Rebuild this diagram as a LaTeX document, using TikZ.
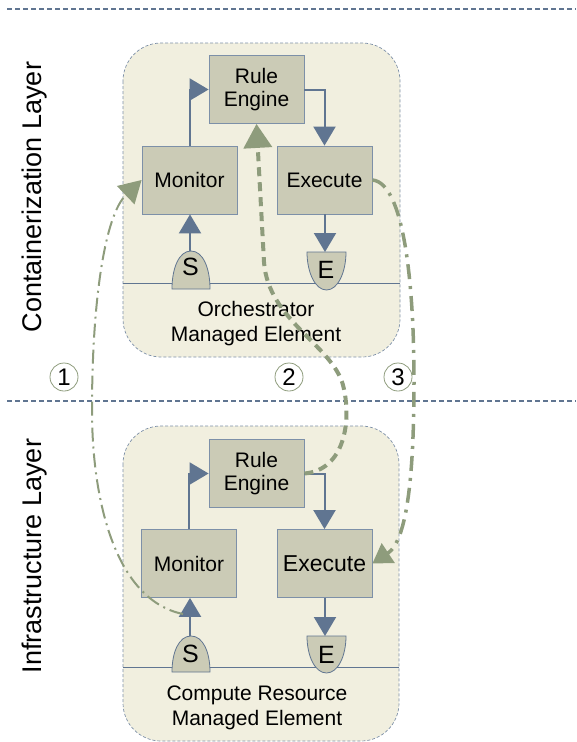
\documentclass[tikz,border=0pt]{standalone}
\usepackage{fontspec}
\setmainfont{Liberation Sans}
\usetikzlibrary{arrows.meta}

\definecolor{panefill}{RGB}{241,239,223}
\definecolor{blockfill}{RGB}{203,203,182}
\definecolor{steel}{RGB}{96,117,145}
\definecolor{edgeblue}{RGB}{125,144,168}
\definecolor{sage}{RGB}{142,156,124}

\begin{document}
\begin{tikzpicture}[x=1pt,y=-1pt,
  layerline/.style={draw=steel, line width=2.2pt, dash pattern=on 5pt off 3pt},
  panebox/.style={draw=edgeblue, fill=panefill, line width=0.7pt, dash pattern=on 3pt off 2pt, rounded corners=38pt},
  baseline line/.style={draw=steel, line width=0.8pt},
  block/.style={draw=edgeblue, fill=blockfill, line width=0.8pt, minimum width=95pt, minimum height=68pt,
    inner sep=0pt, align=center, font=\fontsize{21}{23}\selectfont},
  probe/.style={draw=steel, fill=blockfill, line width=0.8pt},
  probetext/.style={inner sep=0pt, font=\fontsize{25}{25}\selectfont},
  flow/.style={draw=steel, line width=2pt, -{Triangle[length=19pt,width=22pt]}},
  loopa/.style={draw=sage, line width=2pt, dash pattern=on 14pt off 5pt on 2pt off 5pt,
    -{Triangle[length=22pt,width=25pt,fill=sage]}},
  loopb/.style={draw=sage, line width=4pt, dash pattern=on 9pt off 6pt,
    -{Triangle[length=24pt,width=28pt,fill=sage]}},
  loopc/.style={draw=sage, line width=3.5pt, dash pattern=on 15pt off 7pt on 3pt off 7pt,
    -{Triangle[length=19pt,width=23pt,fill=sage]}},
  numcirc/.style={circle, draw=sage, line width=0.8pt, minimum size=28pt, inner sep=0pt,
    font=\fontsize{24}{24}\selectfont},
  paneltext/.style={inner sep=0pt, align=center, font=\fontsize{21}{25}\selectfont},
  layertext/.style={rotate=90, inner sep=0pt, font=\fontsize{27}{27}\selectfont}
]
\useasboundingbox (0,0) rectangle (576,742);

% layer separators
\draw[layerline] (7,9) -- (576,9);
\draw[layerline] (7,401) -- (576,401);

% layer names
\node[layertext] (lay1) at (35,197) {Containerization Layer};
\node[layertext] (lay2) at (35,556) {Infrastructure Layer};

% managed element panes
\path[panebox] (123,43) rectangle (400,357);
\path[panebox] (123,426) rectangle (399,741);
\draw[baseline line] (123,283) -- (400,283);
\draw[baseline line] (123,667) -- (399,667);

% upper loop: orchestrator
\node[block] (rule1) at (256.5,89.5) {Rule\\Engine};
\node[block] (mon1) at (189.5,180) {Monitor};
\node[block] (exe1) at (324.5,180) {Execute};

\draw[probe] (172,289) .. controls (172,268) and (179,251) .. (191,251)
  .. controls (203,251) and (210,268) .. (210,289) -- cycle;
\draw[probe] (307,252) -- (346,252) .. controls (346,272) and (338,290) .. (326.5,290)
  .. controls (315,290) and (307,272) .. (307,252) -- cycle;
\node[probetext] (s1) at (190.5,267) {S};
\node[probetext] (e1) at (326,270) {E};
\coordinate (s1top) at (190,251);
\coordinate (e1top) at (325,252);

\draw[flow] (mon1.north) |- (rule1.west);
\draw[flow] (rule1.east) -| (exe1.north);
\draw[flow] (s1top) -- (s1top |- mon1.south);
\draw[flow] (exe1.south -| e1top) -- (e1top);

\node[paneltext] (lab1) at (256,324) {Orchestrator\\Managed Element};

% lower loop: compute resource
\node[block] (rule2) at (256.5,473.5) {Rule\\Engine};
\node[block] (mon2) at (189,563.5) {Monitor};
\node[block, font=\fontsize{23}{23}\selectfont] (exe2) at (324.5,563.5) {Execute};

\draw[probe] (172,672) .. controls (172,652) and (179,636) .. (191,636)
  .. controls (203,636) and (210,652) .. (210,672) -- cycle;
\draw[probe] (307,636) -- (346,636) .. controls (346,656) and (338,673) .. (326.5,673)
  .. controls (315,673) and (307,656) .. (307,636) -- cycle;
\node[probetext] (s2) at (190.5,654) {S};
\node[probetext] (e2) at (326.5,655) {E};
\coordinate (s2top) at (190,636);
\coordinate (e2top) at (325,636);

\draw[flow] (mon2.north) |- (rule2.west);
\draw[flow] (rule2.east) -| (exe2.north);
\draw[flow] (s2top) -- (s2top |- mon2.south);
\draw[flow] (exe2.south -| e2top) -- (e2top);

\node[paneltext] (lab2) at (257,707.5) {Compute Resource\\Managed Element};

% cross-layer interactions
\coordinate (c1) at (183,614);
\draw[loopa] (c1) .. controls (115,600) and (92,500) .. (92,410)
  .. controls (92,300) and (105,215) .. (mon1.west);
\draw[loopb] (rule2.east) .. controls (345,470) and (352,420) .. (343,385)
  .. controls (332,345) and (268,320) .. (264,262) -- (rule1.south);
\draw[loopc] (exe1.east) .. controls (405,183) and (414,290) .. (414,380)
  .. controls (414,470) and (408,540) .. (exe2.east);

\node[numcirc] (n1) at (64,377) {1};
\node[numcirc] (n2) at (289,377) {2};
\node[numcirc] (n3) at (398,377) {3};
\end{tikzpicture}
\end{document}
